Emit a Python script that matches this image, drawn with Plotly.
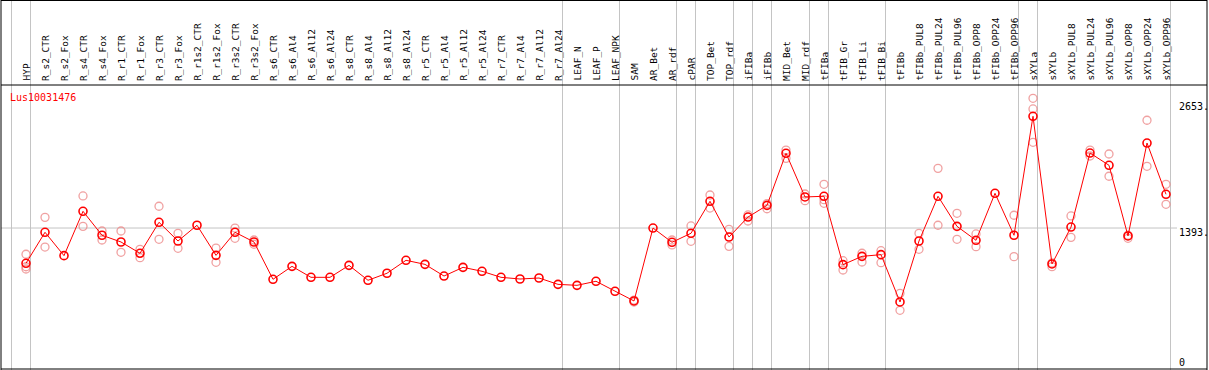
import plotly.graph_objects as go

W, H = 1209, 370

categories = ["HYP", "R_s2_CTR", "R_s2_Fox", "R_s4_CTR", "R_s4_Fox", "R_r1_CTR", "R_r1_Fox",
              "R_r3_CTR", "R_r3_Fox", "R_r1s2_CTR", "R_r1s2_Fox", "R_r3s2_CTR", "R_r3s2_Fox",
              "R_s6_CTR", "R_s6_Al4", "R_s6_Al12", "R_s6_Al24", "R_s8_CTR", "R_s8_Al4", "R_s8_Al12",
              "R_s8_Al24", "R_r5_CTR", "R_r5_Al4", "R_r5_Al12", "R_r5_Al24", "R_r7_CTR", "R_r7_Al4",
              "R_r7_Al12", "R_r7_Al24", "LEAF_N", "LEAF_P", "LEAF_NPK", "SAM", "AR_Bet", "AR_rdf",
              "cPAR", "TOP_Bet", "TOP_rdf", "iFIBa", "iFIBb", "MID_Bet", "MID_rdf", "tFIBa",
              "tFIB_Gr", "tFIB_Li", "tFIB_Bi", "tFIBb", "tFIBb_PUL8", "tFIBb_PUL24", "tFIBb_PUL96",
              "tFIBb_OPP8", "tFIBb_OPP24", "tFIBb_OPP96", "sXYLa", "sXYLb", "sXYLb_PUL8",
              "sXYLb_PUL24", "sXYLb_PUL96", "sXYLb_OPP8", "sXYLb_OPP24", "sXYLb_OPP96"]

means = [1037, 1350, 1114, 1562, 1320, 1252, 1138, 1451, 1262, 1421, 1117, 1350, 1252,
         875, 1006, 895, 895, 1016, 865, 936, 1067, 1026, 908, 996, 956, 895, 878, 888, 824,
         814, 855, 754, 656, 1393, 1249, 1340, 1663, 1302, 1504, 1622, 2148, 1707, 1714,
         1023, 1107, 1124, 646, 1262, 1714, 1410, 1269, 1744, 1320, 2522, 1030, 1403,
         2151, 2027, 1313, 2252, 1734]

N = None
rep_a = [1128, 1501, N, 1717, 1363, 1363, 1178, 1613, 1340, N, 1191, 1393, 1272,
         N, N, N, N, N, N, N, N, N, N, N, N, N, N, N, N, N, N, N,
         665, N, 1272, 1414, 1727, 1380, 1525, 1640, 2181, 1737, 1835,
         1063, 1138, 1164, 733, 1340, 1996, 1542, 1333, N, 1522, 2704, 1040, 1515,
         2181, 2141, 1320, 2482, 1835]
rep_b = [1002, 1201, N, 1410, 1272, 1148, 1094, 1279, 1188, N, 1047, 1289, 1229,
         N, N, N, N, N, N, N, N, N, N, N, N, N, N, N, N, N, N, N,
         645, N, 1222, 1259, 1595, 1208, 1464, 1588, 2097, 1669, 1643,
         969, 1050, 1043, 562, 1178, 1421, 1279, 1205, N, 1104, 2259, 1003, 1299,
         2121, 1916, 1289, 2017, 1633]
rep_c = [979] + [N] * 41 + [1680] + [N] * 10 + [2596] + [N] * 7

# group separators: placed after these category indices (-1 = before the first)
group_ends = [-1, 0, 28, 31, 34, 35, 37, 38, 39, 41, 42, 45, 52, 53, 60]

y_ticks = [2653, 1393, 0]
y_tick_labels = ["2653.", "1393.", "0"]
gene = "Lus10031476"

x = list(range(len(categories)))

# pixel geometry
x0_px, dx_px = 26, 19
xr = [-x0_px / dx_px, (W - x0_px) / dx_px]
ppu = 0.09897
zero_px = 365.9
yr = [-(H - zero_px) / ppu, zero_px / ppu]

def py(p):
    return 1 - p / H

def px(p):
    return p / W

fig = go.Figure()
pink = "rgba(235,130,130,0.75)"
for reps in (rep_a, rep_b, rep_c):
    fig.add_trace(go.Scatter(x=x, y=reps, mode="markers",
                             marker=dict(symbol="circle-open", size=8, color=pink,
                                         line=dict(width=1.3, color=pink)),
                             hoverinfo="skip", showlegend=False))
fig.add_trace(go.Scatter(x=x, y=means, mode="lines+markers",
                         line=dict(color="#ff0000", width=1),
                         marker=dict(symbol="circle-open", size=8, color="#ff0000",
                                     line=dict(width=1.6, color="#ff0000")),
                         showlegend=False))

shapes = []
for g in group_ends:
    xv = g + 4.5 / dx_px
    shapes.append(dict(type="line", xref="x", yref="paper", x0=xv, x1=xv, y0=0, y1=1,
                       line=dict(color="#c4c4c4", width=1), layer="below"))
shapes.append(dict(type="line", xref="paper", yref="y", x0=px(1), x1=px(1177), y0=1393, y1=1393,
                   line=dict(color="#c4c4c4", width=1), layer="below"))
# frame
for (a, b, c, d) in [(1, 0.5, 1207, 0.5), (1, 85, 1207, 85), (1, 369, 1207, 369),
                     (1, 0, 1, 370), (1207, 0, 1207, 370)]:
    shapes.append(dict(type="line", xref="paper", yref="paper", x0=px(a), x1=px(c),
                       y0=py(b), y1=py(d), line=dict(color="black", width=1)))

annotations = []
for i, c in enumerate(categories):
    annotations.append(dict(x=i, y=py(83), xref="x", yref="paper", text=c, showarrow=False,
                            textangle=-90, xanchor="center", yanchor="bottom",
                            font=dict(family="DejaVu Sans Mono", size=9.5, color="black")))
label_y = {2653: 107, 1393: 232, 0: 362}
for v, t in zip(y_ticks, y_tick_labels):
    annotations.append(dict(x=px(1177), y=py(label_y[v]), xref="paper", yref="paper", text=t,
                            showarrow=False, xanchor="left", yanchor="middle",
                            font=dict(family="DejaVu Sans Mono", size=10, color="black")))
annotations.append(dict(x=px(8), y=py(97), xref="paper", yref="paper", text=gene,
                        showarrow=False, xanchor="left", yanchor="middle",
                        font=dict(family="DejaVu Sans Mono", size=10, color="#ff0000")))

fig.update_layout(width=W, height=H, margin=dict(l=0, r=0, t=0, b=0),
                  paper_bgcolor="white", plot_bgcolor="white",
                  xaxis=dict(range=xr, visible=False, fixedrange=True),
                  yaxis=dict(range=yr, visible=False, fixedrange=True),
                  shapes=shapes, annotations=annotations)
fig.write_html("out.html", config={"displayModeBar": False},
               post_script="document.body.style.margin='0';document.body.style.overflow='hidden';")
